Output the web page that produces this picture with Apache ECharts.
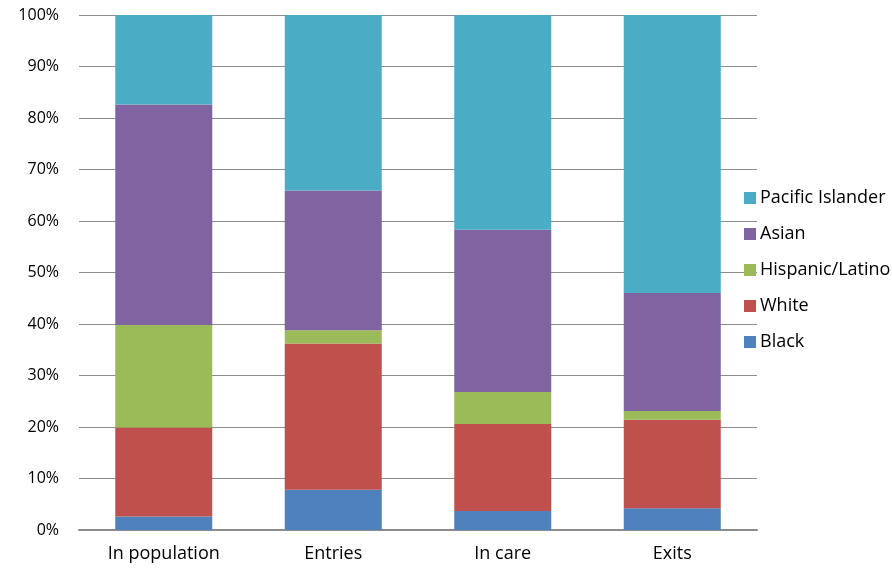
<!DOCTYPE html>
<html>
<head>
<meta charset="utf-8">
<script src="https://cdn.jsdelivr.net/npm/echarts@6/dist/echarts.min.js"></script>
<style>
  html, body { margin: 0; padding: 0; background: #fff; }
  #chart { width: 892px; height: 570px; }
</style>
</head>
<body>
<div id="chart"></div>
<script>
const categories = ["In population", "Entries", "In care", "Exits"];
const black = [2.6, 7.8, 3.7, 4.2];
const white = [17.3, 28.4, 16.9, 17.2];
const hispanic = [19.9, 2.6, 6.2, 1.7];
const asian = [42.8, 27.1, 31.5, 22.9];
const pacific = [17.4, 34.1, 41.7, 54.0];

const font = "'Open Sans', 'Liberation Sans', sans-serif";

let chart = echarts.init(document.getElementById('chart'));

function bar(name, data, color) {
  return {
    name: name,
    type: "bar",
    stack: "total",
    barWidth: 97,
    itemStyle: { color: color },
    data: data
  };
}

chart.setOption({
  animation: false,
  grid: { left: 79, right: 135, top: 15, bottom: 40 },
  legend: {
    orient: "vertical",
    left: 744,
    top: 189,
    padding: 0,
    itemWidth: 12,
    itemHeight: 12,
    itemGap: 18,
    icon: "rect",
    textStyle: { fontFamily: font, fontSize: 18, color: "#000", padding: [0, 0, 0, -1] },
    data: ["Pacific Islander", "Asian", "Hispanic/Latino", "White", "Black"]
  },
  xAxis: {
    type: "category",
    data: categories,
    axisTick: { show: false },
    axisLine: { lineStyle: { color: "#8c8c8c", width: 2 } },
    axisLabel: { fontFamily: font, fontSize: 18, color: "#000", margin: 15 }
  },
  yAxis: {
    type: "value",
    min: 0,
    max: 100,
    interval: 10,
    axisLine: { show: false },
    axisTick: { show: false },
    splitLine: { lineStyle: { color: "#8c8c8c", width: 1 } },
    axisLabel: { fontFamily: font, fontSize: 16, color: "#000", margin: 20, formatter: "{value}%" }
  },
  series: [
    bar("Black", black, "#4F81BD"),
    bar("White", white, "#C0504D"),
    bar("Hispanic/Latino", hispanic, "#9BBB59"),
    bar("Asian", asian, "#8064A2"),
    bar("Pacific Islander", pacific, "#4BACC6")
  ]
});
</script>
</body>
</html>
